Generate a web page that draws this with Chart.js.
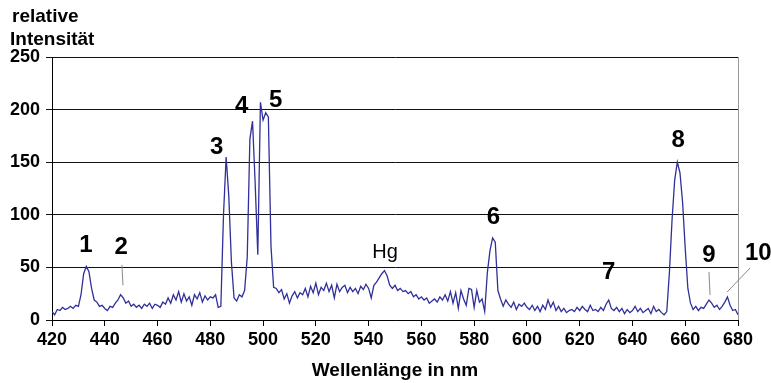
<!DOCTYPE html>
<html>
<head>
<meta charset="utf-8">
<script src="https://cdn.jsdelivr.net/npm/chart.js@4.4.1/dist/chart.umd.min.js"></script>
<style>
  html, body { margin: 0; padding: 0; background: #fff; }
  #wrap { width: 771px; height: 383px; }
</style>
</head>
<body>
<div id="wrap"><canvas id="spectrum" width="771" height="383"></canvas></div>
<script>
// relative intensity, one value per nm from 420 to 680
var intensity = [
  8, 5, 10, 9, 12, 10, 11, 13, 11, 14,          // 420
  13, 24, 44, 51, 46, 30, 19, 17, 13, 14,       // 430
  11, 9, 13, 12, 16, 19, 24, 21, 16, 18,        // 440
  13, 15, 12, 14, 11, 15, 13, 16, 11, 15,       // 450
  14, 12, 17, 15, 21, 16, 24, 19, 27, 17,       // 460
  25, 18, 22, 14, 24, 20, 26, 17, 23, 19,       // 470
  22, 21, 24, 12, 13, 100, 155, 118, 55, 21,    // 480
  18, 24, 22, 28, 60, 172, 189, 130, 62, 207,   // 490
  190, 197, 193, 70, 31, 30, 26, 29, 20, 25,    // 500
  16, 23, 27, 21, 26, 24, 30, 22, 32, 26,       // 510
  35, 24, 31, 28, 35, 27, 33, 21, 34, 27,       // 520
  31, 33, 26, 31, 27, 30, 25, 32, 29, 34,       // 530
  30, 21, 33, 36, 40, 44, 47, 42, 33, 30,       // 540
  33, 28, 30, 27, 28, 25, 27, 22, 24, 20,       // 550
  22, 19, 21, 16, 18, 20, 17, 22, 19, 24,       // 560
  18, 27, 16, 26, 11, 28, 20, 14, 30, 29,       // 570
  12, 28, 17, 20, 8, 45, 66, 78, 74, 28,        // 580
  20, 13, 19, 15, 12, 17, 10, 15, 13, 16,       // 590
  12, 10, 14, 9, 13, 8, 14, 10, 19, 12,         // 600
  17, 9, 13, 8, 11, 7, 9, 10, 8, 12,            // 610
  9, 13, 10, 8, 14, 9, 10, 8, 12, 9,            // 620
  15, 19, 11, 9, 12, 8, 11, 6, 10, 7,           // 630
  9, 13, 8, 11, 7, 9, 11, 6, 13, 8,             // 640
  10, 7, 5, 8, 45, 95, 133, 150, 140, 112,      // 650
  68, 30, 16, 10, 13, 9, 12, 11, 15, 19,        // 660
  16, 12, 14, 10, 13, 17, 22, 14, 9, 10,        // 670
  5                                             // 680
];
var wavelengths = intensity.map(function(v, i) { return 420 + i; });

// peak labels: text, wavelength, intensity where the label sits
var peakLabels = ['1', '2', '3', '4', '5', 'Hg', '6', '7', '8', '9', '10'];
var peakNm     = [432.9, 446.2, 482.4, 491.9, 504.8, 546.2, 587.3, 631, 657.3, 669, 687.7];
var peakVal    = [71, 69.5, 164, 203, 208.6, 64, 98, 45, 171, 61, 63];

// thin leader lines for the weak lines 2, 9, 10: [nm1, v1, nm2, v2]
var leaders = [
  [446.5, 52.4, 446.9, 33],
  [669.0, 45.7, 669.4, 23.8],
  [684.6, 49.5, 675.9, 26.7]
];

var points = wavelengths.map(function(nm, i) { return { x: nm, y: intensity[i] }; });

var textPlugin = {
  id: 'texts',
  afterDraw: function(chart) {
    var ctx = chart.ctx;
    var xs = chart.scales.x, ys = chart.scales.y;
    var area = chart.chartArea;
    ctx.save();

    // grey right frame
    ctx.strokeStyle = '#999';
    ctx.lineWidth = 1;
    ctx.beginPath();
    ctx.moveTo(Math.round(area.right) + 0.5, area.top);
    ctx.lineTo(Math.round(area.right) + 0.5, area.bottom);
    ctx.stroke();

    // y title top left
    ctx.fillStyle = '#000';
    ctx.textAlign = 'left';
    ctx.textBaseline = 'alphabetic';
    ctx.font = 'bold 19px "Liberation Sans", Arial, sans-serif';
    ctx.fillText('relative', 12, 22);
    ctx.fillText('Intensität', 10, 45);

    // x title
    ctx.textAlign = 'center';
    ctx.fillText('Wellenlänge in nm', (area.left + area.right) / 2, 376);

    // peak numbers
    ctx.textBaseline = 'middle';
    peakLabels.forEach(function(lab, i) {
      if (lab === 'Hg') {
        ctx.font = '20px "Liberation Sans", Arial, sans-serif';
      } else {
        ctx.font = 'bold 24px "Liberation Sans", Arial, sans-serif';
      }
      ctx.fillText(lab, xs.getPixelForValue(peakNm[i]), ys.getPixelForValue(peakVal[i]));
    });

    ctx.strokeStyle = '#888';
    ctx.lineWidth = 1;
    leaders.forEach(function(l) {
      ctx.beginPath();
      ctx.moveTo(xs.getPixelForValue(l[0]), ys.getPixelForValue(l[1]));
      ctx.lineTo(xs.getPixelForValue(l[2]), ys.getPixelForValue(l[3]));
      ctx.stroke();
    });
    ctx.restore();
  }
};

var tickFont = { family: '"Liberation Sans", Arial, sans-serif', size: 18, weight: 'bold' };

var chart = new Chart(document.getElementById('spectrum'), {
  type: 'line',
  data: {
    datasets: [{
      data: points,
      borderColor: '#30309a',
      borderWidth: 1.3,
      pointRadius: 0,
      tension: 0,
      fill: false
    }]
  },
  options: {
    responsive: false,
    animation: false,
    events: [],
    layout: { padding: { top: 57, right: 33, left: 0, bottom: 0 } },
    plugins: { legend: { display: false }, tooltip: { enabled: false } },
    scales: {
      x: {
        type: 'linear',
        min: 420, max: 680,
        ticks: { stepSize: 20, color: '#000', font: tickFont, padding: 3, maxRotation: 0 },
        grid: { drawOnChartArea: false, drawTicks: true, tickLength: 6, color: '#000' },
        border: { color: '#000', width: 1 },
        afterFit: function(scale) { scale.height = 63; }
      },
      y: {
        min: 0, max: 250,
        ticks: { stepSize: 50, color: '#000', font: tickFont, padding: 6 },
        grid: { color: '#111', lineWidth: 1, tickLength: 6 },
        border: { color: '#000', width: 1 },
        afterFit: function(scale) { scale.width = 52; }
      }
    }
  },
  plugins: [textPlugin]
});
</script>
</body>
</html>
